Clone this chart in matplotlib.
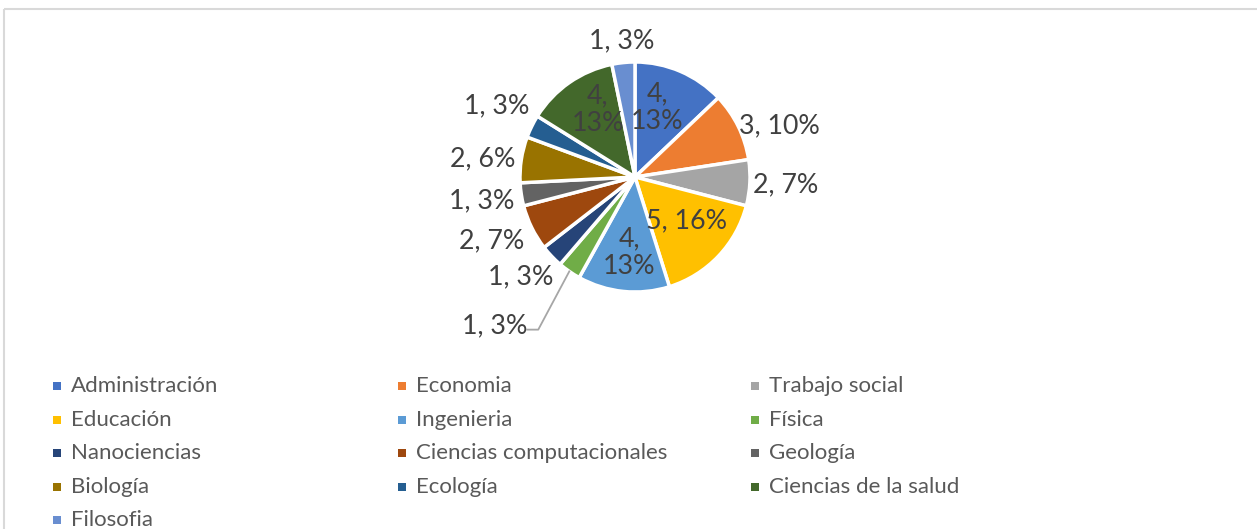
import matplotlib
matplotlib.use('Agg')
import matplotlib.pyplot as plt
import numpy as np
from matplotlib.patches import Rectangle

# ---------------- data ----------------
categories = ['Administración', 'Economia', 'Trabajo social', 'Educación', 'Ingenieria',
              'Física', 'Nanociencias', 'Ciencias computacionales', 'Geología', 'Biología',
              'Ecología', 'Ciencias de la salud', 'Filosofia']
values = [4, 3, 2, 5, 4, 1, 1, 2, 1, 2, 1, 4, 1]
pct_labels = ['13%', '10%', '7%', '16%', '13%', '3%', '3%', '7%', '3%', '6%', '3%', '13%', '3%']

# ---------------- style ----------------
colors = ['#4472C4', '#ED7D31', '#A5A5A5', '#FFC000', '#5B9BD5', '#70AD47', '#264478',
          '#9E480E', '#636363', '#997300', '#255E91', '#43682B', '#698ED0']
# label layout: radial distance (in radii), clockwise angle offset (deg), line break
label_dist = [0.63, 1.33, 1.31, 0.59, 0.66, 1.78, 1.32, 1.36, 1.35, 1.33, 1.35, 0.67, 1.19]
label_off = [-5.5, 6.5, 0.2, -3.3, -1.3, 8.6, 2.2, 2.2, -0.3, -1.9, 1.0, 5.9, 0.3]
label_break = [True, False, False, False, True, False, False, False, False, False, False, True, False]
leader = [False, False, False, False, False, True, False, False, False, False, False, False, False]

plt.rcParams['font.family'] = ['Lato', 'DejaVu Sans']

W, H = 1257, 529
fig = plt.figure(figsize=(W / 100, H / 100), dpi=100)
ax = fig.add_axes([0, 0, 1, 1])

cx, cy, R = 635, H - 177, 115
wedges, _ = ax.pie(values, colors=colors, startangle=90, counterclock=False,
                   center=(cx, cy), radius=R,
                   wedgeprops=dict(edgecolor='white', linewidth=2.5))
ax.set_xlim(0, W)
ax.set_ylim(0, H)
ax.set_aspect('equal')
ax.axis('off')

# chart frame (only top and left edges visible)
ax.plot([4, 4], [0, H - 9], color='#D9D9D9', lw=1.5, solid_capstyle='butt')
ax.plot([4, W], [H - 9, H - 9], color='#D9D9D9', lw=1.5, solid_capstyle='butt')

lab_color = '#404040'
for i, w in enumerate(wedges):
    mid = 0.5 * (w.theta1 + w.theta2)
    ang = np.deg2rad(mid - label_off[i])
    x = cx + label_dist[i] * R * np.cos(ang)
    y = cy + label_dist[i] * R * np.sin(ang)
    sep = ',\n' if label_break[i] else ', '
    txt = f'{values[i]}{sep}{pct_labels[i]}'
    ax.text(x, y, txt, ha='center', va='center', fontsize=19.3, color=lab_color,
            linespacing=1.12)
    if leader[i]:
        m = np.deg2rad(mid)
        ex, ey = cx + R * np.cos(m), cy + R * np.sin(m)
        sx, sy = x + 33, y - 4
        ax.plot([sx, sx + 11, ex], [sy, sy, ey], color='#A6A6A6', lw=1.3)

# legend (row-major, 3 columns)
col_x = [71, 416, 769]
row_y0, row_dy = 386, 33.6
leg_color = '#595959'
for i, (cat, col) in enumerate(zip(categories, colors)):
    r, c = divmod(i, 3)
    tx = col_x[c]
    ty = H - (row_y0 + r * row_dy)
    ax.add_patch(Rectangle((tx - 18, ty - 4), 8, 8, facecolor=col, edgecolor='none'))
    ax.text(tx, ty, cat, ha='left', va='center', fontsize=16, color=leg_color)

fig.savefig('out.png', dpi=100)
